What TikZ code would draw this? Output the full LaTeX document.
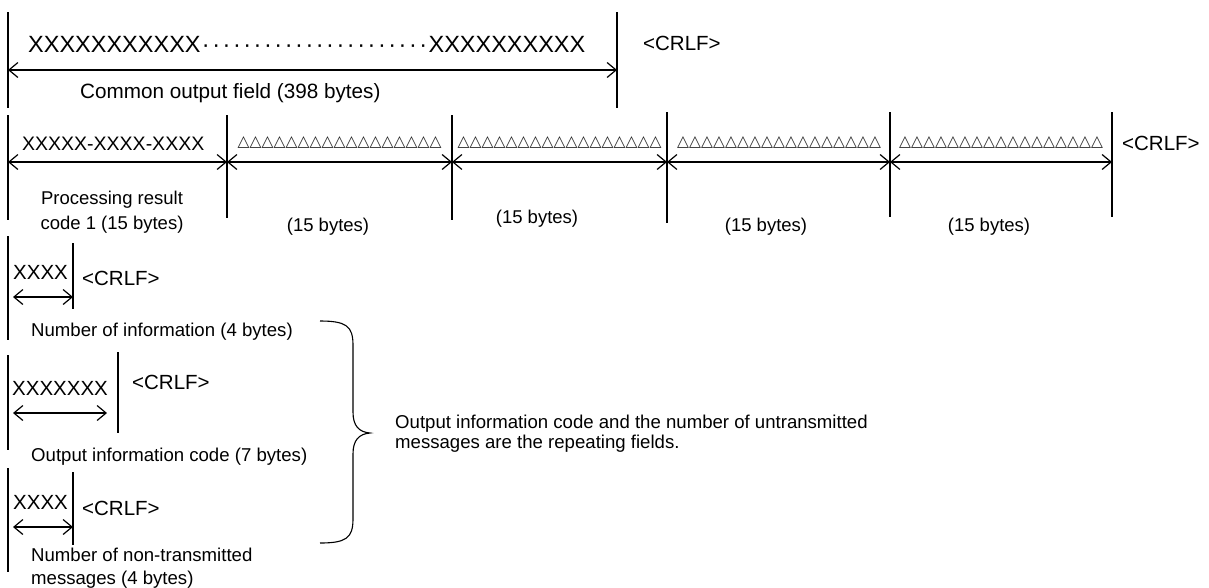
\documentclass[tikz,border=0pt]{standalone}
\usepackage{fontspec}
\setmainfont{Liberation Sans}
\newfontfamily\symfnt{DejaVu Sans}
\usetikzlibrary{arrows.meta}
\newcommand\dotrun{\hbox to 228pt{\cleaders\hbox to 10.36pt{\hss\char"00B7\hss}\hfill}}
\newcommand\tri{\makebox[12pt]{\symfnt\bfseries\fontsize{15.5}{15.5}\selectfont\char"25B3}}
\newcommand\tris{\tri\tri\tri\tri\tri\tri\tri\tri\tri\tri\tri\tri\tri\tri\tri\tri\tri}
\newcommand\stackleft[3]{\vtop{\baselineskip=#1\halign{##\hfil\cr #2\cr #3\cr}}}
\newcommand\stackmid[3]{\vtop{\baselineskip=#1\halign{\hfil##\hfil\cr #2\cr #3\cr}}}
\begin{document}
\begin{tikzpicture}[x=1pt,y=-1pt,
  bar/.style={line width=1.4pt},
  dim/.style={line width=1.4pt,
    {Straight Barb[length=9pt,width=15pt,line width=1.2pt]}-{Straight Barb[length=9pt,width=15pt,line width=1.2pt]}},
  txt/.style={inner sep=0pt,anchor=base west,font=\fontsize{18.6}{20}\selectfont},
  crlf/.style={inner sep=0pt,anchor=base west,font=\fontsize{20.5}{22}\selectfont},
  xfld/.style={inner sep=0pt,anchor=base west,font=\fontsize{20.5}{22}\selectfont},
  trirow/.style={inner sep=0pt,anchor=center,text=black!85}]
\useasboundingbox (0,0) rectangle (1209,587);

% ---------- row 1: common output field
\coordinate (c1t) at (8,12);   \coordinate (c1b) at (8,108);
\coordinate (c2t) at (617,12); \coordinate (c2b) at (617,108);
\draw[bar] (c1t) -- (c1b);
\draw[bar] (c2t) -- (c2b);
\coordinate (ca) at (8,70); \coordinate (cb) at (617,70);
\draw[dim] (ca) -- (cb);
\node[inner sep=0pt,anchor=base west,font=\fontsize{23.5}{24}\selectfont] (cx) at (28,52)
  {XXXXXXXXXXX\dotrun XXXXXXXXXX};
\node[inner sep=0pt,anchor=base west,font=\fontsize{20.7}{22}\selectfont] (cl) at (80,98)
  {Common output field (398 bytes)};
\node[crlf] (cr1) at (643,50.5) {<CRLF>};

% ---------- row 2: processing result codes
\coordinate (p0t) at (8,115);    \coordinate (p0b) at (8,220);
\coordinate (p1t) at (227,115);  \coordinate (p1b) at (227,218);
\coordinate (p2t) at (452,115);  \coordinate (p2b) at (452,220);
\coordinate (p3t) at (667,112);  \coordinate (p3b) at (667,223);
\coordinate (p4t) at (890,112);  \coordinate (p4b) at (890,217);
\coordinate (p5t) at (1112,112); \coordinate (p5b) at (1112,217);
\foreach \i in {0,...,5} {\draw[bar] (p\i t) -- (p\i b);}
\coordinate (q0) at (8,162);   \coordinate (q1) at (227,162);
\coordinate (q2) at (452,162); \coordinate (q3) at (667,162);
\coordinate (q4) at (890,162); \coordinate (q5) at (1112,162);
\draw[dim] (q0) -- (q1);
\draw[dim] (q1) -- (q2);
\draw[dim] (q2) -- (q3);
\draw[dim] (q3) -- (q4);
\draw[dim] (q4) -- (q5);
\node[inner sep=0pt,anchor=base west,font=\fontsize{19.5}{20}\selectfont] (px) at (22,150) {XXXXX-XXXX-XXXX};
\node[trirow] (t1) at (339.5,142) {\tris};
\node[trirow] (t2) at (559.5,142) {\tris};
\node[trirow] (t3) at (779,142) {\tris};
\node[trirow] (t4) at (1001,142) {\tris};
\node[crlf] (cr2) at (1122,150) {<CRLF>};
\node[inner sep=0pt,anchor=base,font=\fontsize{18.5}{20}\selectfont] (pl0) at (112,204.7)
  {\stackmid{25pt}{Processing result}{code 1 (15 bytes)}};
\node[inner sep=0pt,anchor=base,font=\fontsize{18.5}{20}\selectfont] (pl1) at (328,231.7) {(15 bytes)};
\node[inner sep=0pt,anchor=base,font=\fontsize{18.5}{20}\selectfont] (pl2) at (537,223.7) {(15 bytes)};
\node[inner sep=0pt,anchor=base,font=\fontsize{18.5}{20}\selectfont] (pl3) at (766,231.7) {(15 bytes)};
\node[inner sep=0pt,anchor=base,font=\fontsize{18.5}{20}\selectfont] (pl4) at (989,231.7) {(15 bytes)};

% ---------- row 3: number of information
\coordinate (a0t) at (8,236); \coordinate (a0b) at (8,340);
\coordinate (a1t) at (73,243); \coordinate (a1b) at (73,309);
\draw[bar] (a0t) -- (a0b);
\draw[bar] (a1t) -- (a1b);
\node[xfld] (ax) at (13,279.4) {XXXX};
\coordinate (aa) at (13,297); \coordinate (ab) at (73,297);
\draw[dim] (aa) -- (ab);
\node[crlf] (cr3) at (82,285.4) {<CRLF>};
\node[txt] (al) at (31,336.7) {Number of information (4 bytes)};

% ---------- row 4: output information code
\coordinate (b0t) at (8,355); \coordinate (b0b) at (8,450);
\coordinate (b1t) at (118,352); \coordinate (b1b) at (118,433);
\draw[bar] (b0t) -- (b0b);
\draw[bar] (b1t) -- (b1b);
\node[xfld] (bx) at (12,395.4) {XXXXXXX};
\coordinate (ba) at (13,413); \coordinate (bb) at (107,413);
\draw[dim] (ba) -- (bb);
\node[crlf] (cr4) at (132,389.4) {<CRLF>};
\node[txt] (bl) at (31,461.7) {Output information code (7 bytes)};

% ---------- row 5: number of non-transmitted messages
\coordinate (d0t) at (8,468); \coordinate (d0b) at (8,572);
\coordinate (d1t) at (73,472); \coordinate (d1b) at (73,545);
\draw[bar] (d0t) -- (d0b);
\draw[bar] (d1t) -- (d1b);
\node[xfld] (dx) at (13,509.4) {XXXX};
\coordinate (da) at (13,527); \coordinate (db) at (73,527);
\draw[dim] (da) -- (db);
\node[crlf] (cr5) at (82,515.4) {<CRLF>};
\node[txt] (dl) at (31,561.7) {\stackleft{23pt}{Number of non-transmitted}{messages (4 bytes)}};

% ---------- brace and note
\draw[line width=1.1pt]
  (320,321) .. controls (346,321) and (353,326) .. (353,345)
  -- (353,412) .. controls (353,426) and (359,432) .. (370,433)
  .. controls (359,434) and (353,440) .. (353,454)
  -- (353,519) .. controls (353,538) and (346,543) .. (320,543);
\node[txt] (note) at (395,428.7)
  {\stackleft{20pt}{Output information code and the number of untransmitted}{messages are the repeating fields.}};
\end{tikzpicture}
\end{document}
